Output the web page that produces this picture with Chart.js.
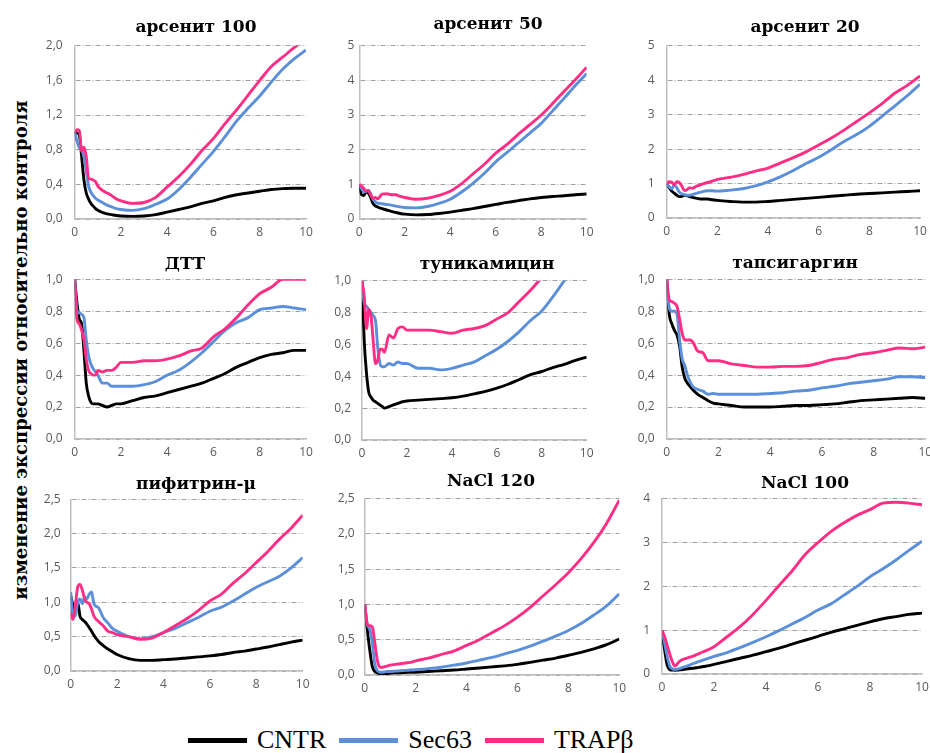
<!DOCTYPE html>
<html lang="ru">
<head>
<meta charset="utf-8">
<title>Изменение экспрессии относительно контроля</title>
<script src="https://cdn.jsdelivr.net/npm/chart.js@4.4.1/dist/chart.umd.min.js"></script>
<style>
  html, body { margin: 0; padding: 0; background: #fff; }
  #page { position: relative; width: 930px; height: 753px; overflow: hidden; }
  #page canvas { position: absolute; }
  #y-title {
    position: absolute; left: 20px; top: 350px;
    transform: translate(-50%, -50%) rotate(-90deg);
    white-space: nowrap; font: bold 18px "DejaVu Serif", serif; color: #000;
  }
  #legend {
    position: absolute; left: 188px; top: 721px; height: 38px;
    display: flex; align-items: center;
    font: 26px "Liberation Serif", serif; color: #000;
  }
  #legend .key { display: inline-block; width: 59px; height: 5px; margin-right: 10px; }
  #legend .name { margin-right: 13px; }
</style>
</head>
<body>
<div id="page">
  <div id="y-title">изменение экспрессии относительно контроля</div>
  <div id="legend"></div>
</div>
<script>
// time points shared by every panel
const xs = [0, 0.1, 0.2, 0.3, 0.4, 0.5, 0.6, 0.7, 0.8, 0.9, 1.0,
  1.2, 1.4, 1.6, 1.8, 2.0,
  2.5, 3, 3.5, 4, 4.5, 5, 5.5, 6, 6.5, 7, 7.5, 8, 8.5, 9, 9.5, 10];
const xTicks = [0, 2, 4, 6, 8, 10];

const seriesNames = ["CNTR", "Sec63", "TRAPβ"];
const seriesColors = ["#000000", "#5b8fd9", "#ff2e84"];

const panelTitles = ["арсенит 100", "арсенит 50", "арсенит 20", "ДТТ", "туникамицин",
  "тапсигаргин", "пифитрин-μ", "NaCl 120", "NaCl 100"];

const yTicksArs100 = [0, 0.4, 0.8, 1.2, 1.6, 2.0];
const yTicks5 = [0, 1, 2, 3, 4, 5];
const yTicks1 = [0, 0.2, 0.4, 0.6, 0.8, 1.0];
const yTicks25 = [0, 0.5, 1.0, 1.5, 2.0, 2.5];
const yTicks4 = [0, 1, 2, 3, 4];

// арсенит 100
const cntrArs100 = [1.0, 0.99, 0.97, 0.72, 0.45, 0.30, 0.23, 0.18, 0.15, 0.12, 0.10,
  0.075, 0.06, 0.05, 0.04, 0.035,
  0.03, 0.035, 0.05, 0.08, 0.11, 0.14, 0.18, 0.21, 0.25, 0.28, 0.30, 0.32, 0.34, 0.35, 0.355, 0.355];
const sec63Ars100 = [1.0, 0.90, 0.82, 0.80, 0.72, 0.55, 0.38, 0.31, 0.27, 0.24, 0.22,
  0.19, 0.16, 0.14, 0.12, 0.11,
  0.10, 0.12, 0.17, 0.23, 0.34, 0.48, 0.63, 0.78, 0.95, 1.13, 1.28, 1.42, 1.58, 1.73, 1.85, 1.95];
const trapArs100 = [1.0, 1.03, 1.02, 0.78, 0.83, 0.72, 0.47, 0.46, 0.45, 0.43, 0.38,
  0.33, 0.30, 0.27, 0.23, 0.21,
  0.18, 0.19, 0.25, 0.37, 0.49, 0.63, 0.79, 0.93, 1.10, 1.26, 1.43, 1.60, 1.76, 1.87, 1.98, 2.08];

// арсенит 50
const cntrArs50 = [1.0, 0.70, 0.68, 0.78, 0.75, 0.62, 0.45, 0.38, 0.35, 0.32, 0.30,
  0.26, 0.22, 0.19, 0.16, 0.14,
  0.12, 0.13, 0.16, 0.20, 0.25, 0.30, 0.36, 0.42, 0.48, 0.53, 0.58, 0.62, 0.65, 0.67, 0.70, 0.72];
const sec63Ars50 = [1.0, 0.88, 0.78, 0.80, 0.83, 0.72, 0.58, 0.50, 0.46, 0.45, 0.44,
  0.42, 0.40, 0.37, 0.35, 0.33,
  0.32, 0.36, 0.45, 0.57, 0.78, 1.03, 1.32, 1.65, 1.92, 2.20, 2.48, 2.76, 3.12, 3.48, 3.85, 4.20];
const trapArs50 = [1.0, 0.95, 0.88, 0.80, 0.82, 0.70, 0.60, 0.62, 0.58, 0.64, 0.72,
  0.73, 0.70, 0.70, 0.65, 0.62,
  0.57, 0.60, 0.68, 0.80, 1.02, 1.30, 1.58, 1.90, 2.15, 2.45, 2.72, 3.00, 3.33, 3.68, 4.02, 4.38];

// арсенит 20
const cntrArs20 = [1.0, 0.88, 0.78, 0.72, 0.66, 0.62, 0.63, 0.66, 0.65, 0.62, 0.60,
  0.57, 0.55, 0.55, 0.53, 0.51,
  0.48, 0.46, 0.46, 0.48, 0.51, 0.54, 0.57, 0.60, 0.63, 0.66, 0.69, 0.71, 0.73, 0.75, 0.77, 0.79];
const sec63Ars20 = [1.0, 0.90, 0.85, 0.96, 0.88, 0.75, 0.70, 0.68, 0.66, 0.66, 0.68,
  0.72, 0.76, 0.79, 0.79, 0.78,
  0.81, 0.85, 0.93, 1.05, 1.20, 1.38, 1.58, 1.76, 1.98, 2.22, 2.42, 2.66, 2.95, 3.25, 3.55, 3.88];
const trapArs20 = [1.0, 1.05, 1.04, 0.96, 1.05, 1.03, 0.92, 0.80, 0.82, 0.88, 0.86,
  0.93, 0.98, 1.03, 1.07, 1.12,
  1.18, 1.26, 1.36, 1.45, 1.60, 1.75, 1.92, 2.12, 2.32, 2.55, 2.80, 3.05, 3.32, 3.62, 3.85, 4.12];

// ДТТ
const cntrDtt = [1.0, 0.85, 0.75, 0.72, 0.55, 0.35, 0.27, 0.23, 0.22, 0.22, 0.22,
  0.21, 0.20, 0.21, 0.22, 0.22,
  0.24, 0.26, 0.27, 0.29, 0.31, 0.33, 0.35, 0.38, 0.41, 0.45, 0.48, 0.51, 0.53, 0.54, 0.555, 0.555];
const sec63Dtt = [1.0, 0.80, 0.79, 0.78, 0.76, 0.62, 0.52, 0.47, 0.44, 0.42, 0.40,
  0.35, 0.35, 0.33, 0.33, 0.33,
  0.33, 0.34, 0.36, 0.40, 0.43, 0.48, 0.54, 0.61, 0.68, 0.73, 0.76, 0.81, 0.82, 0.83, 0.82, 0.81];
const trapDtt = [1.0, 0.75, 0.72, 0.68, 0.62, 0.50, 0.43, 0.41, 0.40, 0.40, 0.43,
  0.42, 0.43, 0.43, 0.45, 0.48,
  0.48, 0.49, 0.49, 0.50, 0.52, 0.55, 0.57, 0.64, 0.69, 0.76, 0.84, 0.91, 0.95, 1.0, 1.0, 1.0];

// туникамицин
const cntrTun = [1.0, 0.62, 0.42, 0.30, 0.27, 0.25, 0.24, 0.23, 0.22, 0.21, 0.20,
  0.21, 0.22, 0.23, 0.24, 0.245,
  0.25, 0.255, 0.26, 0.265, 0.275, 0.29, 0.305, 0.325, 0.35, 0.38, 0.41, 0.43, 0.455, 0.475, 0.50, 0.52];
const sec63Tun = [1.0, 0.86, 0.84, 0.82, 0.80, 0.78, 0.75, 0.58, 0.48, 0.46, 0.46,
  0.48, 0.47, 0.49, 0.48, 0.48,
  0.45, 0.45, 0.44, 0.45, 0.47, 0.49, 0.53, 0.57, 0.62, 0.68, 0.75, 0.81, 0.90, 1.0, 1.1, 1.2];
const trapTun = [1.0, 0.90, 0.70, 0.82, 0.78, 0.62, 0.48, 0.50, 0.57, 0.57, 0.55,
  0.66, 0.64, 0.70, 0.71, 0.69,
  0.69, 0.69, 0.68, 0.67, 0.69, 0.70, 0.72, 0.76, 0.80, 0.87, 0.94, 1.02, 1.1, 1.18, 1.25, 1.32];

// тапсигаргин
const cntrTg = [1.0, 0.78, 0.72, 0.68, 0.65, 0.58, 0.45, 0.38, 0.35, 0.33, 0.31,
  0.28, 0.26, 0.24, 0.225, 0.22,
  0.21, 0.20, 0.20, 0.20, 0.205, 0.21, 0.21, 0.215, 0.22, 0.23, 0.24, 0.245, 0.25, 0.255, 0.26, 0.255];
const sec63Tg = [1.0, 0.82, 0.80, 0.80, 0.78, 0.62, 0.50, 0.46, 0.40, 0.36, 0.33,
  0.31, 0.30, 0.28, 0.285, 0.28,
  0.28, 0.28, 0.28, 0.285, 0.29, 0.30, 0.305, 0.32, 0.33, 0.345, 0.355, 0.365, 0.375, 0.39, 0.39, 0.385];
const trapTg = [1.0, 0.87, 0.86, 0.85, 0.83, 0.75, 0.66, 0.62, 0.62, 0.62, 0.61,
  0.55, 0.54, 0.49, 0.49, 0.49,
  0.47, 0.46, 0.45, 0.45, 0.455, 0.455, 0.46, 0.48, 0.50, 0.51, 0.53, 0.54, 0.555, 0.57, 0.565, 0.575];

// пифитрин-μ
const cntrPft = [1.1, 0.95, 0.88, 1.0, 0.80, 0.75, 0.72, 0.68, 0.63, 0.58, 0.52,
  0.43, 0.37, 0.32, 0.28, 0.24,
  0.18, 0.155, 0.155, 0.165, 0.175, 0.19, 0.205, 0.22, 0.24, 0.27, 0.29, 0.32, 0.35, 0.385, 0.42, 0.45];
const sec63Pft = [1.15, 0.80, 0.80, 1.0, 1.05, 0.98, 1.08, 1.05, 1.12, 1.15, 0.98,
  0.92, 0.78, 0.70, 0.62, 0.58,
  0.50, 0.47, 0.50, 0.56, 0.62, 0.70, 0.78, 0.87, 0.93, 1.02, 1.12, 1.22, 1.30, 1.38, 1.50, 1.65];
const trapPft = [0.85, 0.75, 0.95, 1.22, 1.26, 1.18, 1.05, 1.0, 0.98, 0.90, 0.80,
  0.72, 0.66, 0.58, 0.56, 0.53,
  0.50, 0.46, 0.48, 0.56, 0.66, 0.76, 0.88, 1.02, 1.12, 1.28, 1.42, 1.58, 1.74, 1.92, 2.08, 2.27];

// NaCl 120
const cntrNa120 = [1.0, 0.65, 0.35, 0.12, 0.05, 0.03, 0.02, 0.02, 0.02, 0.022, 0.025,
  0.03, 0.03, 0.035, 0.04, 0.04,
  0.05, 0.06, 0.07, 0.085, 0.10, 0.115, 0.13, 0.15, 0.18, 0.21, 0.24, 0.28, 0.32, 0.37, 0.43, 0.51];
const sec63Na120 = [1.0, 0.72, 0.65, 0.45, 0.15, 0.06, 0.04, 0.04, 0.045, 0.05, 0.05,
  0.055, 0.06, 0.065, 0.07, 0.075,
  0.09, 0.11, 0.14, 0.17, 0.21, 0.25, 0.30, 0.35, 0.41, 0.48, 0.55, 0.63, 0.73, 0.85, 0.98, 1.15];
const trapNa120 = [1.0, 0.72, 0.70, 0.68, 0.45, 0.20, 0.11, 0.11, 0.12, 0.13, 0.14,
  0.15, 0.16, 0.17, 0.18, 0.20,
  0.24, 0.29, 0.34, 0.42, 0.50, 0.60, 0.70, 0.82, 0.96, 1.12, 1.28, 1.45, 1.65, 1.88, 2.15, 2.48];

// NaCl 100
const cntrNa100 = [1.0, 0.55, 0.20, 0.10, 0.09, 0.085, 0.09, 0.095, 0.10, 0.11, 0.12,
  0.13, 0.15, 0.17, 0.19, 0.22,
  0.29, 0.36, 0.43, 0.51, 0.59, 0.68, 0.77, 0.86, 0.95, 1.03, 1.11, 1.19, 1.26, 1.31, 1.36, 1.39];
const sec63Na100 = [1.0, 0.70, 0.40, 0.18, 0.12, 0.10, 0.11, 0.13, 0.15, 0.17, 0.19,
  0.24, 0.28, 0.32, 0.36, 0.40,
  0.49, 0.60, 0.72, 0.85, 0.99, 1.14, 1.29, 1.46, 1.60, 1.80, 2.00, 2.22, 2.40, 2.60, 2.82, 3.03];
const trapNa100 = [1.0, 0.85, 0.65, 0.45, 0.28, 0.18, 0.24, 0.30, 0.33, 0.35, 0.37,
  0.41, 0.46, 0.51, 0.56, 0.62,
  0.85, 1.08, 1.36, 1.68, 2.02, 2.35, 2.72, 3.00, 3.25, 3.45, 3.62, 3.75, 3.90, 3.92, 3.90, 3.86];

const panelSeries = [
  [cntrArs100, sec63Ars100, trapArs100],
  [cntrArs50, sec63Ars50, trapArs50],
  [cntrArs20, sec63Ars20, trapArs20],
  [cntrDtt, sec63Dtt, trapDtt],
  [cntrTun, sec63Tun, trapTun],
  [cntrTg, sec63Tg, trapTg],
  [cntrPft, sec63Pft, trapPft],
  [cntrNa120, sec63Na120, trapNa120],
  [cntrNa100, sec63Na100, trapNa100],
];
const panelYTicks = [yTicksArs100, yTicks5, yTicks5, yTicks1, yTicks1, yTicks1, yTicks25, yTicks25, yTicks4];

// plot-area box [left, top, right, bottom], title centre x and baseline y, y-label gap
const boxes = [
  { area: [74.7, 45.7, 306, 219], title: [196, 32], tickPad: 12 },
  { area: [359.3, 45.7, 586.7, 219], title: [488, 29], tickPad: 5 },
  { area: [666.7, 45.7, 920, 217.5], title: [805, 32], tickPad: 12 },
  { area: [74.7, 279.3, 306, 439.3], title: [185, 269], tickPad: 12 },
  { area: [362, 280.7, 586.7, 440], title: [487, 269], tickPad: 11 },
  { area: [666.7, 279.3, 925.3, 439.3], title: [795, 268], tickPad: 12 },
  { area: [70.7, 499.3, 302.7, 671.3], title: [196, 489], tickPad: 10 },
  { area: [364.7, 498.7, 619.3, 675.3], title: [491, 486], tickPad: 10 },
  { area: [662, 498.7, 922, 674], title: [805, 488], tickPad: 12 },
];

const yAxisW = 34, xAxisH = 24, headH = 44, rightRoom = 40;
const tickFont = { family: "'Open Sans', sans-serif", size: 12 };
const tickColor = "#595959";
const axisColor = "#bfbfbf";
const gridColor = "#a0a0a0";

// panel heading drawn at a fixed spot inside each canvas
const panelTitle = {
  id: "panelTitle",
  afterDraw(chart, args, opts) {
    const ctx = chart.ctx;
    ctx.save();
    ctx.font = "bold 17px 'DejaVu Serif'";
    ctx.fillStyle = "#000";
    ctx.textAlign = "center";
    ctx.textBaseline = "alphabetic";
    ctx.fillText(opts.text, opts.x, opts.y);
    ctx.restore();
  }
};

function fmtTick(ticks) {
  const decimal = ticks.some(v => !Number.isInteger(v));
  return v => decimal ? v.toFixed(1).replace(".", ",") : String(v);
}

const page = document.getElementById("page");

boxes.forEach((b, i) => {
  const [l, t, r, btm] = b.area;
  const left = Math.round(l - yAxisW);
  const top = Math.round(t - headH);
  const width = Math.round(r + rightRoom) - left;
  const height = Math.round(btm + xAxisH) - top;
  const padTop = t - top;
  const padLeft = l - yAxisW - left;
  const padRight = left + width - r;

  const canvas = document.createElement("canvas");
  canvas.width = width;
  canvas.height = height;
  canvas.style.left = left + "px";
  canvas.style.top = top + "px";
  page.appendChild(canvas);

  const ticksY = panelYTicks[i];
  const series = panelSeries[i];

  new Chart(canvas, {
    type: "line",
    data: {
      datasets: seriesNames.map((name, k) => ({
        label: name,
        data: xs.map((x, j) => ({ x: x, y: series[k][j] })),
        borderColor: seriesColors[k],
        borderWidth: 2.9,
        pointRadius: 0,
        cubicInterpolationMode: "monotone",
        order: 3 - k,
      }))
    },
    options: {
      responsive: false,
      animation: false,
      events: [],
      layout: { padding: { top: padTop, left: padLeft, right: padRight, bottom: 0 } },
      plugins: {
        legend: { display: false },
        tooltip: { enabled: false },
        panelTitle: { text: panelTitles[i], x: b.title[0] - left, y: b.title[1] - top },
      },
      scales: {
        x: {
          type: "linear",
          min: 0,
          max: 10,
          afterBuildTicks: axis => { axis.ticks = xTicks.map(v => ({ value: v })); },
          afterFit: axis => { axis.height = xAxisH; },
          grid: { display: false, drawTicks: false },
          border: { display: true, color: axisColor, width: 1.5 },
          ticks: { font: tickFont, color: tickColor, padding: 6, maxRotation: 0 },
        },
        y: {
          min: 0,
          max: ticksY[ticksY.length - 1],
          afterBuildTicks: axis => { axis.ticks = ticksY.map(v => ({ value: v })); },
          afterFit: axis => { axis.width = yAxisW; },
          grid: { color: gridColor, lineWidth: 1, drawTicks: false },
          border: { display: true, color: axisColor, width: 1.5, dash: [5, 2, 1, 2] },
          ticks: { font: tickFont, color: tickColor, padding: b.tickPad, callback: fmtTick(ticksY) },
        }
      }
    },
    plugins: [panelTitle]
  });
});

// shared legend under the grid
const legend = document.getElementById("legend");
seriesNames.forEach((name, k) => {
  const key = document.createElement("span");
  key.className = "key";
  key.style.background = seriesColors[k];
  const label = document.createElement("span");
  label.className = "name";
  label.textContent = name;
  legend.appendChild(key);
  legend.appendChild(label);
});
</script>
</body>
</html>
